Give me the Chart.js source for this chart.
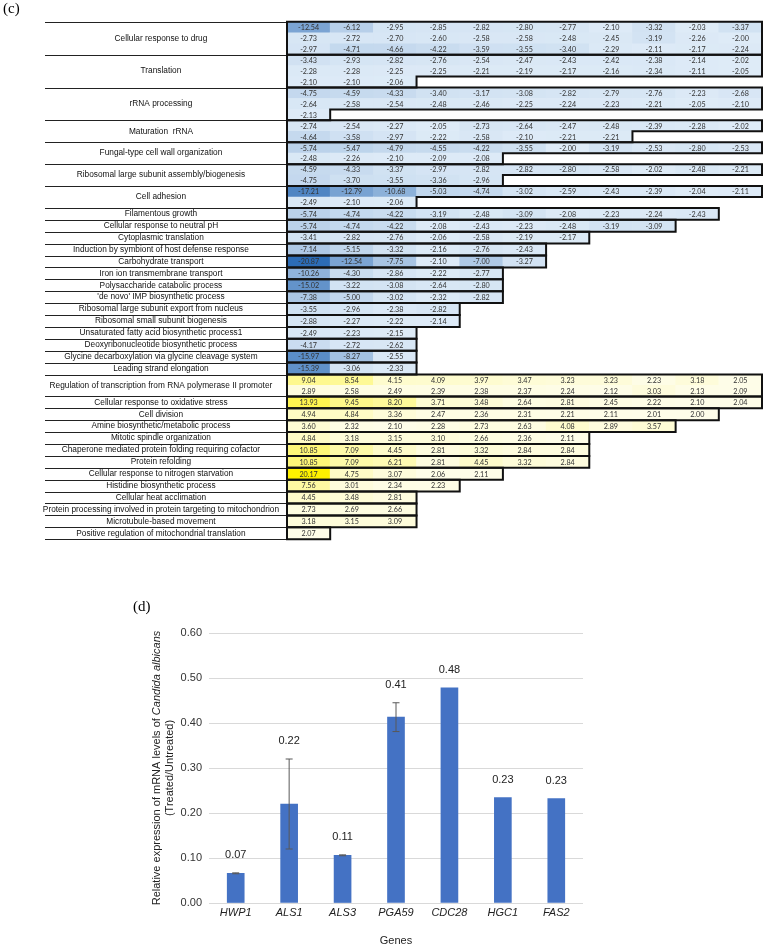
<!DOCTYPE html>
<html lang="en">
<head>
<meta charset="UTF-8">
<title>GO term fold changes and mRNA expression</title>
<script src="https://cdn.jsdelivr.net/npm/chart.js"></script>
<style>
  body { margin: 0; background: #fff; }
  #wrap { position: relative; width: 766px; height: 946px; }
  canvas { position: absolute; left: 0; }
  .panel { position: absolute; font-family: 'Liberation Serif', serif; font-size: 15px; color: #000; }
</style>
</head>
<body>
<div id="wrap">
  <canvas id="termTable" width="766" height="560" style="top:0"></canvas>
  <canvas id="expressionChart" width="766" height="386" style="top:560px"></canvas>
  <div class="panel" style="left:3px;top:0px">(c)</div>
  <div class="panel" style="left:133px;top:598px">(d)</div>
</div>
<script>
    // (c) GO terms, down-regulated then up-regulated; each term has one or more lines of fold changes
    const downTerms = [
        'Cellular response to drug', 'Translation', 'rRNA processing', 'Maturation  rRNA',
        'Fungal-type cell wall organization', 'Ribosomal large subunit assembly/biogenesis', 'Cell adhesion',
        'Filamentous growth', 'Cellular response to neutral pH', 'Cytoplasmic translation',
        'Induction by symbiont of host defense response', 'Carbohydrate transport',
        'Iron ion transmembrane transport', 'Polysaccharide catabolic process',
        "'de novo' IMP biosynthetic process", 'Ribosomal large subunit export from nucleus',
        'Ribosomal small subunit biogenesis', 'Unsaturated fatty acid biosynthetic process1',
        'Deoxyribonucleotide biosynthetic process', 'Glycine decarboxylation via glycine cleavage system',
        'Leading strand elongation'
    ];
    const downFolds = [
        [[-12.54, -6.12, -2.95, -2.85, -2.82, -2.80, -2.77, -2.10, -3.32, -2.03, -3.37],
         [-2.73, -2.72, -2.70, -2.60, -2.58, -2.58, -2.48, -2.45, -3.19, -2.26, -2.00],
         [-2.97, -4.71, -4.66, -4.22, -3.59, -3.55, -3.40, -2.29, -2.11, -2.17, -2.24]],
        [[-3.43, -2.93, -2.82, -2.76, -2.54, -2.47, -2.43, -2.42, -2.38, -2.14, -2.02],
         [-2.28, -2.28, -2.25, -2.25, -2.21, -2.19, -2.17, -2.16, -2.34, -2.11, -2.05],
         [-2.10, -2.10, -2.06]],
        [[-4.75, -4.59, -4.33, -3.40, -3.17, -3.08, -2.82, -2.79, -2.76, -2.23, -2.68],
         [-2.64, -2.58, -2.54, -2.48, -2.46, -2.25, -2.24, -2.23, -2.21, -2.05, -2.10],
         [-2.13]],
        [[-2.74, -2.54, -2.27, -2.05, -2.73, -2.64, -2.47, -2.48, -2.39, -2.28, -2.02],
         [-4.64, -3.58, -2.97, -2.22, -2.58, -2.10, -2.21, -2.21]],
        [[-5.74, -5.47, -4.79, -4.55, -4.22, -3.55, -2.00, -3.19, -2.53, -2.80, -2.53],
         [-2.48, -2.26, -2.10, -2.09, -2.08]],
        [[-4.59, -4.33, -3.37, -2.97, -2.82, -2.82, -2.80, -2.58, -2.02, -2.48, -2.21],
         [-4.75, -3.70, -3.55, -3.36, -2.96]],
        [[-17.21, -12.79, -10.68, -5.03, -4.74, -3.02, -2.59, -2.43, -2.39, -2.04, -2.11],
         [-2.49, -2.10, -2.06]],
        [[-5.74, -4.74, -4.22, -3.19, -2.48, -3.09, -2.08, -2.23, -2.24, -2.43]],
        [[-5.74, -4.74, -4.22, -2.08, -2.43, -2.23, -2.48, -3.19, -3.09]],
        [[-3.41, -2.82, -2.76, -2.06, -2.58, -2.19, -2.17]],
        [[-7.14, -5.15, -3.32, -2.16, -2.76, -2.43]],
        [[-20.87, -12.54, -7.75, -2.10, -7.00, -3.27]],
        [[-10.26, -4.30, -2.86, -2.22, -2.77]],
        [[-15.02, -3.22, -3.08, -2.64, -2.80]],
        [[-7.38, -5.00, -3.02, -2.32, -2.82]],
        [[-3.55, -2.96, -2.38, -2.82]],
        [[-2.88, -2.27, -2.22, -2.14]],
        [[-2.49, -2.23, -2.15]],
        [[-4.17, -2.72, -2.62]],
        [[-15.97, -8.27, -2.55]],
        [[-15.39, -3.06, -2.33]]
    ];
    const upTerms = [
        'Regulation of transcription from RNA polymerase II promoter', 'Cellular response to oxidative stress',
        'Cell division', 'Amine biosynthetic/metabolic process', 'Mitotic spindle organization',
        'Chaperone mediated protein folding requiring cofactor', 'Protein refolding',
        'Cellular response to nitrogen starvation', 'Histidine biosynthetic process', 'Cellular heat acclimation',
        'Protein processing involved in protein targeting to mitochondrion', 'Microtubule-based movement',
        'Positive regulation of mitochondrial translation'
    ];
    const upFolds = [
        [[9.04, 8.54, 4.15, 4.09, 3.97, 3.47, 3.23, 3.23, 2.23, 3.18, 2.05],
         [2.89, 2.58, 2.49, 2.39, 2.38, 2.37, 2.24, 2.12, 3.03, 2.13, 2.09]],
        [[13.93, 9.45, 8.20, 3.71, 3.48, 2.64, 2.81, 2.45, 2.22, 2.10, 2.04]],
        [[4.94, 4.84, 3.36, 2.47, 2.36, 2.31, 2.21, 2.11, 2.01, 2.00]],
        [[3.60, 2.32, 2.10, 2.28, 2.73, 2.63, 4.08, 2.89, 3.57]],
        [[4.84, 3.18, 3.15, 3.10, 2.66, 2.36, 2.11]],
        [[10.85, 7.09, 4.45, 2.81, 3.32, 2.84, 2.84]],
        [[10.85, 7.09, 6.21, 2.81, 4.45, 3.32, 2.84]],
        [[20.17, 4.75, 3.07, 2.06, 2.11]],
        [[7.56, 3.01, 2.34, 2.23]],
        [[4.45, 3.48, 2.81]],
        [[2.73, 2.69, 2.66]],
        [[3.18, 3.15, 3.09]],
        [[2.07]]
    ];

    // (d) qPCR
    const genes = ['HWP1', 'ALS1', 'ALS3', 'PGA59', 'CDC28', 'HGC1', 'FAS2'];
    const relExpression = [0.066, 0.22, 0.106, 0.413, 0.478, 0.234, 0.232];
    const expressionErr = [0.001, 0.10, 0.001, 0.032, 0, 0, 0];

    Chart.defaults.font.family = "'Liberation Sans', Arial, sans-serif";

    // lay the term lines out on the y scale (multi-line terms use slightly thinner lines)
    const terms = downTerms.concat(upTerms);
    const folds = downFolds.concat(upFolds);
    const MULTI_LINE = 0.92;
    let cursor = 0;
    const groups = folds.map(lines => {
        const h = lines.length > 1 ? MULTI_LINE : 1;
        const top = cursor;
        const rows = lines.map(vals => {
            const r = { top: cursor, bottom: cursor + h, vals };
            cursor += h;
            return r;
        });
        return { top, bottom: cursor, center: (top + cursor) / 2, rows };
    });
    const totalUnits = cursor;

    const cells = [];
    groups.forEach(g => g.rows.forEach(r => r.vals.forEach((v, c) => {
        cells.push({ x: [c, c + 1], y: (r.top + r.bottom) / 2, v });
    })));

    function mix(a, b, t) {
        t = Math.max(0, Math.min(1, t));
        return 'rgb(' + a.map((ch, i) => Math.round(ch + (b[i] - ch) * t)).join(',') + ')';
    }
    function cellColor(v) {
        if (v < 0) return mix([222, 235, 247], [44, 108, 182], (-v - 2) / 18.87);
        return mix([254, 253, 233], [255, 241, 0], (v - 2) / 18.17);
    }

    const tableDecor = {
        id: 'tableDecor',
        afterDatasetsDraw(chart) {
            const ctx = chart.ctx;
            const xs = chart.scales.x, ys = chart.scales.y;
            const meta = chart.getDatasetMeta(0);
            ctx.save();
            // values
            ctx.font = '7.2px Lato';
            ctx.fillStyle = '#333';
            ctx.textAlign = 'center';
            ctx.textBaseline = 'middle';
            meta.data.forEach((el, i) => {
                const p = el.getCenterPoint();
                ctx.fillText(cells[i].v.toFixed(2), p.x, p.y + 0.5);
            });
            // label column separators
            ctx.strokeStyle = '#222';
            ctx.lineWidth = 1;
            const edges = [groups[0].top].concat(groups.map(g => g.bottom));
            edges.forEach(u => {
                const y = Math.round(ys.getPixelForValue(u)) + 0.5;
                ctx.beginPath();
                ctx.moveTo(45, y);
                ctx.lineTo(chart.chartArea.left, y);
                ctx.stroke();
            });
            // thick outline round each term block
            ctx.strokeStyle = '#111';
            ctx.lineWidth = 2;
            groups.forEach(g => {
                ctx.beginPath();
                ctx.moveTo(xs.getPixelForValue(0), ys.getPixelForValue(g.top));
                g.rows.forEach(r => {
                    ctx.lineTo(xs.getPixelForValue(r.vals.length), ys.getPixelForValue(r.top));
                    ctx.lineTo(xs.getPixelForValue(r.vals.length), ys.getPixelForValue(r.bottom));
                });
                ctx.lineTo(xs.getPixelForValue(0), ys.getPixelForValue(g.bottom));
                ctx.closePath();
                ctx.stroke();
            });
            ctx.restore();
        }
    };

    new Chart(document.getElementById('termTable'), {
        type: 'bar',
        data: {
            datasets: [{
                data: cells,
                backgroundColor: c => cellColor(c.raw ? c.raw.v : -2),
                borderWidth: 0,
                categoryPercentage: 1,
                barPercentage: 1
            }]
        },
        options: {
            indexAxis: 'y',
            responsive: false,
            animation: false,
            layout: { padding: { top: 14, right: 4, bottom: 7, left: 0 } },
            plugins: { legend: { display: false }, tooltip: { enabled: false } },
            scales: {
                x: { type: 'linear', min: 0, max: 11, display: false },
                y: {
                    type: 'linear', min: 0, max: totalUnits, reverse: true,
                    grid: { display: false, drawTicks: false },
                    border: { display: false },
                    afterBuildTicks: s => { s.ticks = groups.map(g => ({ value: g.center })); },
                    afterFit: s => { s.width = 287; },
                    ticks: {
                        autoSkip: false, crossAlign: 'center', padding: 8, color: '#111',
                        font: { size: 8.3 },
                        callback: (v, i) => terms[i]
                    }
                }
            }
        },
        plugins: [tableDecor]
    });

    const barExtras = {
        id: 'barExtras',
        afterDatasetsDraw(chart) {
            const ctx = chart.ctx;
            const ys = chart.scales.y;
            const area = chart.chartArea;
            const meta = chart.getDatasetMeta(0);
            ctx.save();
            meta.data.forEach((el, i) => {
                const v = relExpression[i], e = expressionErr[i];
                let top = el.y;
                if (e > 0) {
                    const yHi = ys.getPixelForValue(v + e), yLo = ys.getPixelForValue(v - e);
                    ctx.strokeStyle = '#595959';
                    ctx.lineWidth = 1;
                    ctx.beginPath();
                    ctx.moveTo(el.x, yHi); ctx.lineTo(el.x, yLo);
                    ctx.moveTo(el.x - 3.5, yHi); ctx.lineTo(el.x + 3.5, yHi);
                    ctx.moveTo(el.x - 3.5, yLo); ctx.lineTo(el.x + 3.5, yLo);
                    ctx.stroke();
                    top = Math.min(top, yHi);
                }
                ctx.fillStyle = '#222';
                ctx.font = "11px 'Liberation Sans'";
                ctx.textAlign = 'center';
                ctx.textBaseline = 'middle';
                ctx.fillText(v.toFixed(2), el.x, top - 18);
            });
            // y title with italic species name
            const cy = (area.top + area.bottom) / 2;
            const plain = 'Relative expression of mRNA levels of ';
            const ital = 'Candida albicans';
            ctx.fillStyle = '#222';
            ctx.textBaseline = 'middle';
            ctx.translate(area.left - 52, cy);
            ctx.rotate(-Math.PI / 2);
            ctx.font = "11px 'Liberation Sans'";
            const w1 = ctx.measureText(plain).width;
            ctx.font = "italic 11px 'Liberation Sans'";
            const w2 = ctx.measureText(ital).width;
            ctx.textAlign = 'left';
            ctx.font = "11px 'Liberation Sans'";
            ctx.fillText(plain, -(w1 + w2) / 2, 0);
            ctx.font = "italic 11px 'Liberation Sans'";
            ctx.fillText(ital, -(w1 + w2) / 2 + w1, 0);
            ctx.font = "11px 'Liberation Sans'";
            ctx.textAlign = 'center';
            ctx.fillText('(Treated/Untreated)', 0, 13);
            ctx.restore();
            ctx.save();
            ctx.fillStyle = '#222';
            ctx.font = "11px 'Liberation Sans'";
            ctx.textAlign = 'center';
            ctx.textBaseline = 'middle';
            ctx.fillText('Genes', (area.left + area.right) / 2, 381);
            ctx.restore();
        }
    };

    new Chart(document.getElementById('expressionChart'), {
        type: 'bar',
        data: {
            labels: genes,
            datasets: [{ data: relExpression, backgroundColor: '#4472C4', barThickness: 17 }]
        },
        options: {
            responsive: false,
            animation: false,
            layout: { padding: { top: 73, right: 183, bottom: 0, left: 0 } },
            plugins: { legend: { display: false }, tooltip: { enabled: false } },
            scales: {
                x: {
                    grid: { display: false, drawTicks: false },
                    border: { display: false },
                    ticks: { padding: 3, color: '#222', font: { size: 11, style: 'italic' } },
                    afterFit: s => { s.height = 43; }
                },
                y: {
                    min: 0, max: 0.6,
                    ticks: { stepSize: 0.1, padding: 7, color: '#333', font: { size: 11 }, callback: v => v.toFixed(2) },
                    grid: { color: '#d9d9d9', drawTicks: false },
                    border: { display: false },
                    afterFit: s => { s.width = 209; }
                }
            }
        },
        plugins: [barExtras]
    });
</script>
</body>
</html>
